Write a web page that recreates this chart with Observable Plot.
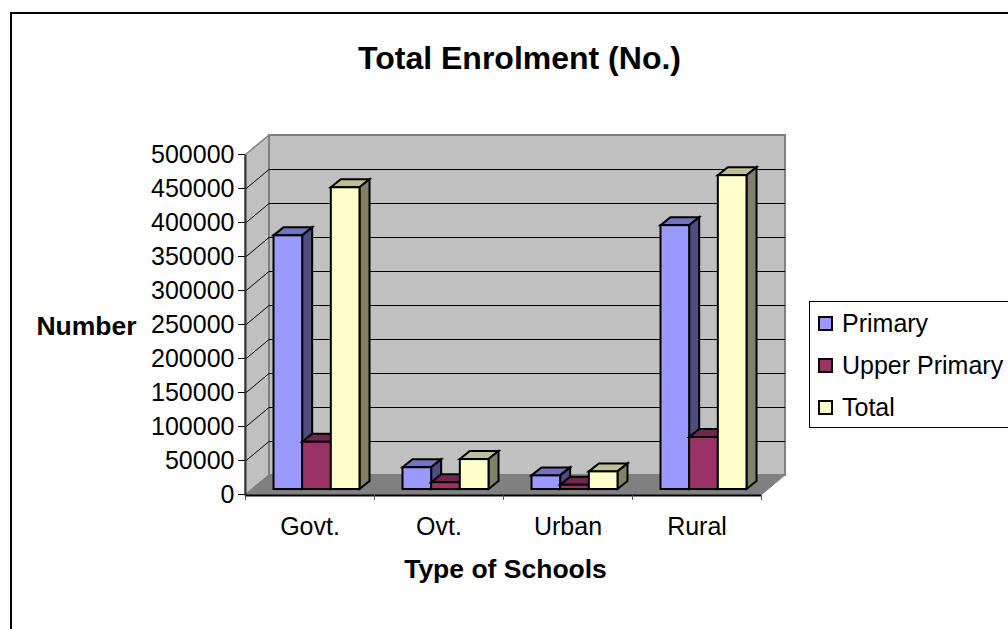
<!DOCTYPE html>
<html>
<head>
<meta charset="utf-8">
<script src="https://cdn.jsdelivr.net/npm/d3@7"></script>
<script src="https://cdn.jsdelivr.net/npm/@observablehq/plot@0.6"></script>
<style>
  html, body { margin: 0; padding: 0; background: #fff; overflow: hidden; }
  #stage { position: relative; width: 1008px; height: 629px; overflow: hidden; font-family: "Liberation Sans", Arial, sans-serif; }
  #stage svg { display: block; max-width: none; }
  #frame { position: absolute; left: 10px; top: 12px; width: 1100px; height: 800px; border: 2px solid #000; box-sizing: border-box; pointer-events: none; }
  #legend { position: absolute; left: 809px; top: 301px; width: 260px; height: 127px; border: 1px solid #000; background: #fff; box-sizing: border-box; }
  .row { position: absolute; left: 8px; display: flex; align-items: center; font-size: 25px; line-height: 28px; color: #000; white-space: nowrap; }
  .sw { width: 15px; height: 15px; border: 2px solid #000; box-sizing: border-box; margin-right: 9px; }
</style>
</head>
<body>
<div id="stage"><div id="frame"></div></div>
<script>
const categories = ["Govt.", "Ovt.", "Urban", "Rural"];
const seriesNames = ["Primary", "Upper Primary", "Total"];
const primaryValues = [373000, 32000, 20000, 388000];
const upperValues = [69500, 10000, 6300, 76500];
const totalValues = [443700, 44000, 25900, 461500];
const yTicks = [0, 50000, 100000, 150000, 200000, 250000, 300000, 350000, 400000, 450000, 500000];
const xBoundaries = [0, 1, 2, 3, 4];
const colors = ["#9999FF", "#993366", "#FFFFCC"];
const topColors = ["#7373BF", "#73264D", "#BFBF99"];
const sideColors = ["#4D4D80", "#4D1A33", "#808066"];

const allValues = [primaryValues, upperValues, totalValues];
const gap = 1.5;
const bars = categories.flatMap((c, i) => seriesNames.map((s, k) => ({
  category: c, series: s, k, value: allValues[k][i],
  x1: i + (gap / 2 + k) / (seriesNames.length + gap),
  x2: i + (gap / 2 + k + 1) / (seriesNames.length + gap)
})));

const NS = "http://www.w3.org/2000/svg";
function poly(points, fill, stroke, sw) {
  const p = document.createElementNS(NS, "polygon");
  p.setAttribute("points", points.map(q => q.join(",")).join(" "));
  p.setAttribute("fill", fill);
  p.setAttribute("stroke", stroke);
  p.setAttribute("stroke-width", sw);
  p.setAttribute("stroke-linejoin", "miter");
  return p;
}
// wall depth and bar depth, in pixels
const wallDx = 24, wallDy = 20, barDx = 10, barDy = 8;
const mLeft = 245, mTop = 155;

function barDepth(index, scales, values, dims, ctx, next) {
  const g = next(index, scales, values, dims, ctx);
  const rects = g.querySelectorAll("rect");
  index.forEach((i, n) => {
    const r = rects[n];
    const xa = Math.min(values.x1[i], values.x2[i]), xb = Math.max(values.x1[i], values.x2[i]);
    const ya = Math.min(values.y1[i], values.y2[i]), yb = Math.max(values.y1[i], values.y2[i]);
    const k = bars[i].k;
    r.parentNode.insertBefore(poly([[xa, ya], [xa + barDx, ya - barDy], [xb + barDx, ya - barDy], [xb, ya]], topColors[k], "#000", 2), r);
    r.parentNode.insertBefore(poly([[xb, ya], [xb + barDx, ya - barDy], [xb + barDx, yb - barDy], [xb, yb]], sideColors[k], "#000", 2), r);
  });
  return g;
}

function wallDepth(index, scales, values, dims, ctx, next) {
  const g = next(index, scales, values, dims, ctx);
  const r = g.querySelector("rect");
  const i = index[0];
  const xa = values.x1[i], xb = values.x2[i];
  const ya = Math.min(values.y1[i], values.y2[i]), yb = Math.max(values.y1[i], values.y2[i]);
  const parent = r.parentNode;
  parent.insertBefore(poly([[xa, ya], [xa - wallDx, ya + wallDy], [xa - wallDx, yb + wallDy], [xa, yb]], "#C0C0C0", "#808080", 1.5), r);
  parent.appendChild(poly([[xa, yb], [xa - wallDx, yb + wallDy], [xb - wallDx, yb + wallDy], [xb, yb]], "#808080", "#808080", 1));
  return g;
}

function gridDepth(index, scales, values, dims, ctx, next) {
  const g = next(index, scales, values, dims, ctx);
  const parent = g.querySelector("line").parentNode;
  index.forEach(i => {
    const l = document.createElementNS(NS, "line");
    const x = dims.marginLeft, y = values.y[i];
    l.setAttribute("x1", x); l.setAttribute("y1", y);
    l.setAttribute("x2", x - wallDx); l.setAttribute("y2", y + wallDy);
    l.setAttribute("stroke", "#000");
    parent.appendChild(l);
  });
  return g;
}

const chart = Plot.plot({
  width: 1008,
  height: 629,
  marginLeft: mLeft,
  marginRight: 247,
  marginTop: mTop,
  marginBottom: 134,
  style: { fontFamily: "'Liberation Sans', Arial, sans-serif", color: "#000", background: "transparent", overflow: "visible" },
  x: { type: "linear", domain: [0, 4], axis: null },
  y: { domain: [0, 500000], axis: null },
  marks: [
    Plot.rect([{ a: 0, b: 4, lo: 0, hi: 500000 }], {
      x1: "a", x2: "b", y1: "lo", y2: "hi",
      dx: wallDx, dy: -wallDy, fill: "#C0C0C0", stroke: "#808080", strokeWidth: 2, render: wallDepth
    }),
    Plot.ruleY(yTicks.slice(1, -1), {
      y: d => d, dx: wallDx, dy: -wallDy, stroke: "#000", strokeWidth: 1, strokeOpacity: 1, render: gridDepth
    }),
    Plot.rect(bars, {
      x1: "x1", x2: "x2", y1: 0, y2: "value",
      dx: 7, dy: -6, fill: d => colors[d.k], stroke: "#000", strokeWidth: 2, render: barDepth
    }),
    Plot.axisY({
      ticks: yTicks, tickFormat: d => String(d), tickSize: 7, tickPadding: 4, fontSize: 25, label: null,
      stroke: "#000", dy: -1
    }),
    Plot.ruleX([0], { y1: 0, y2: 500000, stroke: "#333", strokeWidth: 2 }),
    Plot.ruleY([0], { stroke: "#000", strokeWidth: 2, strokeOpacity: 1 }),
    Plot.axisX({ ticks: xBoundaries, tickFormat: () => "", tickSize: 5, stroke: "#555", label: null, anchor: "bottom" }),
    Plot.text(categories, { x: (d, i) => i + 0.5, y: 0, text: d => d, dy: 31, fontSize: 25, fill: "#000" }),
    Plot.text(["Total Enrolment (No.)"], { frameAnchor: "top-left", text: d => d, dx: 519 - mLeft, dy: 58 - mTop, textAnchor: "middle", lineAnchor: "middle", fontSize: 32, fontWeight: "bold", fill: "#000" }),
    Plot.text(["Number"], { frameAnchor: "top-left", text: d => d, dx: 86 - mLeft, dy: 326 - mTop, textAnchor: "middle", lineAnchor: "middle", fontSize: 26.5, fontWeight: "bold", fill: "#000" }),
    Plot.text(["Type of Schools"], { frameAnchor: "top-left", text: d => d, dx: 505 - mLeft, dy: 569 - mTop, textAnchor: "middle", lineAnchor: "middle", fontSize: 26.5, fontWeight: "bold", fill: "#000" })
  ]
});
document.getElementById("stage").prepend(chart);

const legend = document.createElement("div");
legend.id = "legend";
seriesNames.forEach((name, k) => {
  const row = document.createElement("div");
  row.className = "row";
  row.style.top = (7 + k * 42) + "px";
  const sw = document.createElement("span");
  sw.className = "sw";
  sw.style.background = colors[k];
  row.appendChild(sw);
  row.appendChild(document.createTextNode(name));
  legend.appendChild(row);
});
document.getElementById("stage").appendChild(legend);
</script>
</body>
</html>
